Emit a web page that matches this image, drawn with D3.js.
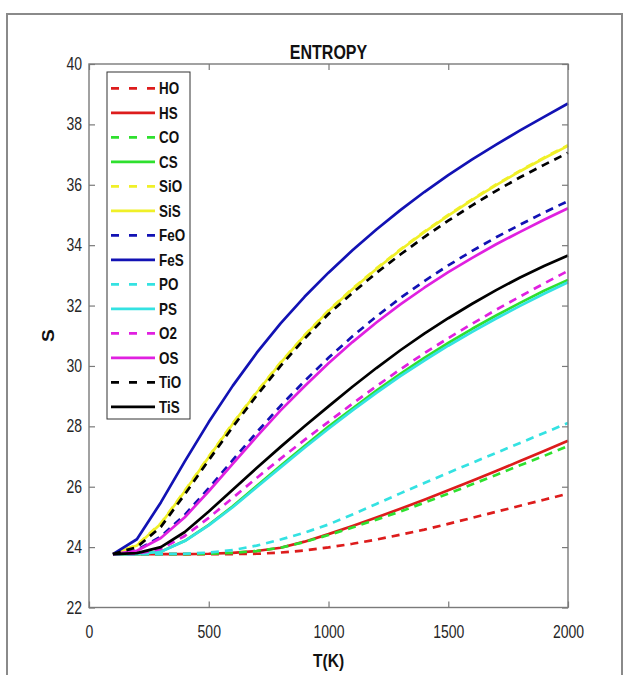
<!DOCTYPE html>
<html>
<head>
<meta charset="utf-8">
<script src="https://cdn.jsdelivr.net/npm/d3@7/dist/d3.min.js"></script>
<style>
  html, body { margin: 0; padding: 0; background: #fff; }
  svg { display: block; }
  text { font-family: "Liberation Sans", Arial, Helvetica, sans-serif; }
</style>
</head>
<body>
<svg id="chart" width="628" height="675"></svg>
<script>
// Temperature grid (K)
const temps = [100, 200, 300, 400, 500, 600, 700, 800, 900, 1000,
               1100, 1200, 1300, 1400, 1500, 1600, 1700, 1800, 1900, 2000];

// Entropy S for each species at the temperatures above
const HO  = [23.77, 23.77, 23.77, 23.77, 23.77, 23.77, 23.78, 23.82, 23.89, 23.99,
             24.11, 24.25, 24.41, 24.58, 24.77, 24.97, 25.17, 25.37, 25.57, 25.77];
const HS  = [23.77, 23.77, 23.77, 23.77, 23.78, 23.81, 23.87, 23.98, 24.18, 24.43,
             24.70, 24.98, 25.27, 25.57, 25.88, 26.20, 26.52, 26.85, 27.18, 27.52];
const CO  = [23.77, 23.77, 23.77, 23.77, 23.78, 23.81, 23.87, 23.98, 24.17, 24.40,
             24.65, 24.91, 25.18, 25.47, 25.77, 26.08, 26.39, 26.71, 27.02, 27.35];
const CS  = [23.77, 23.77, 23.85, 24.21, 24.74, 25.35, 26.02, 26.69, 27.35, 27.99,
             28.59, 29.18, 29.74, 30.27, 30.76, 31.23, 31.67, 32.09, 32.49, 32.85];
const SiO = [23.77, 24.07, 24.79, 25.87, 27.00, 28.10, 29.14, 30.12, 31.02, 31.84,
             32.56, 33.23, 33.86, 34.45, 35.00, 35.52, 36.01, 36.47, 36.90, 37.31];
const SiS = [23.77, 24.05, 24.77, 25.85, 26.98, 28.08, 29.12, 30.10, 31.00, 31.82,
             32.54, 33.21, 33.84, 34.43, 34.98, 35.50, 35.99, 36.45, 36.88, 37.29];
const FeO = [23.77, 23.90, 24.35, 25.07, 25.95, 26.88, 27.80, 28.68, 29.50, 30.27,
             30.98, 31.64, 32.25, 32.81, 33.33, 33.81, 34.26, 34.68, 35.08, 35.46];
const FeS = [23.77, 24.26, 25.48, 26.84, 28.14, 29.34, 30.43, 31.41, 32.29, 33.09,
             33.83, 34.52, 35.16, 35.76, 36.32, 36.84, 37.33, 37.80, 38.25, 38.69];
const PO  = [23.77, 23.77, 23.77, 23.78, 23.82, 23.90, 24.05, 24.25, 24.48, 24.75,
             25.08, 25.43, 25.78, 26.12, 26.46, 26.79, 27.12, 27.45, 27.78, 28.11];
const PS  = [23.77, 23.77, 23.85, 24.20, 24.72, 25.32, 25.98, 26.64, 27.29, 27.92,
             28.53, 29.11, 29.66, 30.18, 30.67, 31.13, 31.57, 31.99, 32.39, 32.77];
const O2  = [23.77, 23.78, 23.94, 24.37, 24.97, 25.63, 26.29, 26.93, 27.55, 28.15,
             28.75, 29.33, 29.89, 30.42, 30.92, 31.40, 31.86, 32.30, 32.73, 33.15];
const OS  = [23.77, 23.88, 24.30, 24.99, 25.85, 26.76, 27.66, 28.53, 29.33, 30.09,
             30.79, 31.44, 32.04, 32.59, 33.11, 33.58, 34.03, 34.44, 34.84, 35.22];
const TiO = [23.77, 24.00, 24.67, 25.75, 26.88, 27.98, 29.02, 30.00, 30.90, 31.72,
             32.42, 33.08, 33.69, 34.27, 34.81, 35.32, 35.80, 36.25, 36.66, 37.06];
const TiS = [23.77, 23.80, 24.00, 24.50, 25.18, 25.90, 26.62, 27.32, 28.00, 28.66,
             29.31, 29.93, 30.52, 31.07, 31.58, 32.06, 32.51, 32.93, 33.31, 33.66];

const seriesNames = ["HO", "HS", "CO", "CS", "SiO", "SiS", "FeO", "FeS",
                     "PO", "PS", "O2", "OS", "TiO", "TiS"];
const xTicks = [0, 500, 1000, 1500, 2000];
const yTicks = [22, 24, 26, 28, 30, 32, 34, 36, 38, 40];

// Line styles
const colorMap = {
  HO: "#dd1c1c", HS: "#dd1c1c", CO: "#2ee02e", CS: "#2ee02e",
  SiO: "#f0f028", SiS: "#f0f028", FeO: "#1212b4", FeS: "#1212b4",
  PO: "#34e2e2", PS: "#34e2e2", O2: "#e020e0", OS: "#e020e0",
  TiO: "#000000", TiS: "#000000"
};
const dashedSet = new Set(["HO", "CO", "SiO", "FeO", "PO", "O2", "TiO"]);
const valuesMap = { HO, HS, CO, CS, SiO, SiS, FeO, FeS, PO, PS, O2, OS, TiO, TiS };

const svg = d3.select("#chart");
const plot = { left: 89, right: 568, top: 64, bottom: 607.5 };

const x = d3.scaleLinear().domain([0, 2000]).range([plot.left, plot.right]);
const y = d3.scaleLinear().domain([22, 40]).range([plot.bottom, plot.top]);

// Figure frame
svg.append("rect")
  .attr("x", 7).attr("y", 14).attr("width", 615).attr("height", 700)
  .attr("fill", "#fff").attr("stroke", "#8a8a8a").attr("stroke-width", 2);

const TX = 0.8; // horizontal text squeeze
const axisGrey = "#7a7a7a";
const labelGrey = "#262626";

// Axes
const gx = svg.append("g").attr("transform", `translate(0,${plot.bottom})`)
  .call(d3.axisBottom(x).tickValues(xTicks).tickFormat(d3.format("d"))
    .tickSizeInner(-6).tickSizeOuter(0).tickPadding(18));
const gxTop = svg.append("g").attr("transform", `translate(0,${plot.top})`)
  .call(d3.axisTop(x).tickValues(xTicks).tickFormat("").tickSizeInner(-6).tickSizeOuter(0));
const gy = svg.append("g").attr("transform", `translate(${plot.left},0)`)
  .call(d3.axisLeft(y).tickValues(yTicks).tickFormat(d3.format("d"))
    .tickSizeInner(-6).tickSizeOuter(0).tickPadding(7));
const gyRight = svg.append("g").attr("transform", `translate(${plot.right},0)`)
  .call(d3.axisRight(y).tickValues(yTicks).tickFormat("").tickSizeInner(-6).tickSizeOuter(0));

[gx, gxTop, gy, gyRight].forEach(g => {
  g.select(".domain").remove();
  g.selectAll(".tick line").attr("stroke", axisGrey).attr("stroke-width", 1.2);
});
gx.selectAll(".tick text")
  .attr("font-size", 17.5).attr("fill", labelGrey)
  .attr("transform", `scale(${TX},1)`);
gy.selectAll(".tick text")
  .attr("font-size", 17.5).attr("fill", labelGrey)
  .attr("x", -7 / TX)
  .attr("transform", `scale(${TX},1)`);

// Curves
const line = d3.line()
  .x((d, i) => x(temps[i]))
  .y(d => y(d));

const curves = svg.append("g");
seriesNames.forEach(name => {
  curves.append("path")
    .datum(valuesMap[name])
    .attr("d", line)
    .attr("fill", "none")
    .attr("stroke", colorMap[name])
    .attr("stroke-width", 2.7)
    .attr("stroke-linejoin", "round")
    .attr("stroke-dasharray", dashedSet.has(name) ? "8,6" : null);
});

// Axes box
svg.append("rect")
  .attr("x", plot.left).attr("y", plot.top)
  .attr("width", plot.right - plot.left).attr("height", plot.bottom - plot.top)
  .attr("fill", "none").attr("stroke", axisGrey).attr("stroke-width", 1.4);

// Legend
const leg = svg.append("g");
leg.append("rect")
  .attr("x", 107).attr("y", 72).attr("width", 83).attr("height", 347)
  .attr("fill", "#fff").attr("stroke", "#333").attr("stroke-width", 1);
seriesNames.forEach((name, i) => {
  const cy = 88.3 + i * 24.5;
  leg.append("line")
    .attr("x1", 111).attr("x2", 155).attr("y1", cy).attr("y2", cy)
    .attr("stroke", colorMap[name]).attr("stroke-width", 2.8)
    .attr("stroke-dasharray", dashedSet.has(name) ? "8,10" : null);
  leg.append("text")
    .attr("transform", `translate(159,${cy + 5.8}) scale(0.84,1)`)
    .attr("font-size", 16).attr("font-weight", "bold").attr("fill", "#111")
    .text(name);
});

// Title and axis labels
svg.append("text")
  .attr("transform", `translate(${(plot.left + plot.right) / 2},59) scale(${TX},1)`)
  .attr("text-anchor", "middle").attr("font-size", 20).attr("font-weight", "bold")
  .attr("fill", "#111").text("ENTROPY");
svg.append("text")
  .attr("transform", `translate(${(plot.left + plot.right) / 2},667) scale(0.82,1)`)
  .attr("text-anchor", "middle").attr("font-size", 19).attr("font-weight", "bold")
  .attr("fill", "#111").text("T(K)");
svg.append("text")
  .attr("transform", `translate(54,${(plot.top + plot.bottom) / 2}) rotate(-90) scale(1,0.82)`)
  .attr("text-anchor", "middle").attr("font-size", 19).attr("font-weight", "bold")
  .attr("fill", "#111").text("S");
</script>
</body>
</html>
